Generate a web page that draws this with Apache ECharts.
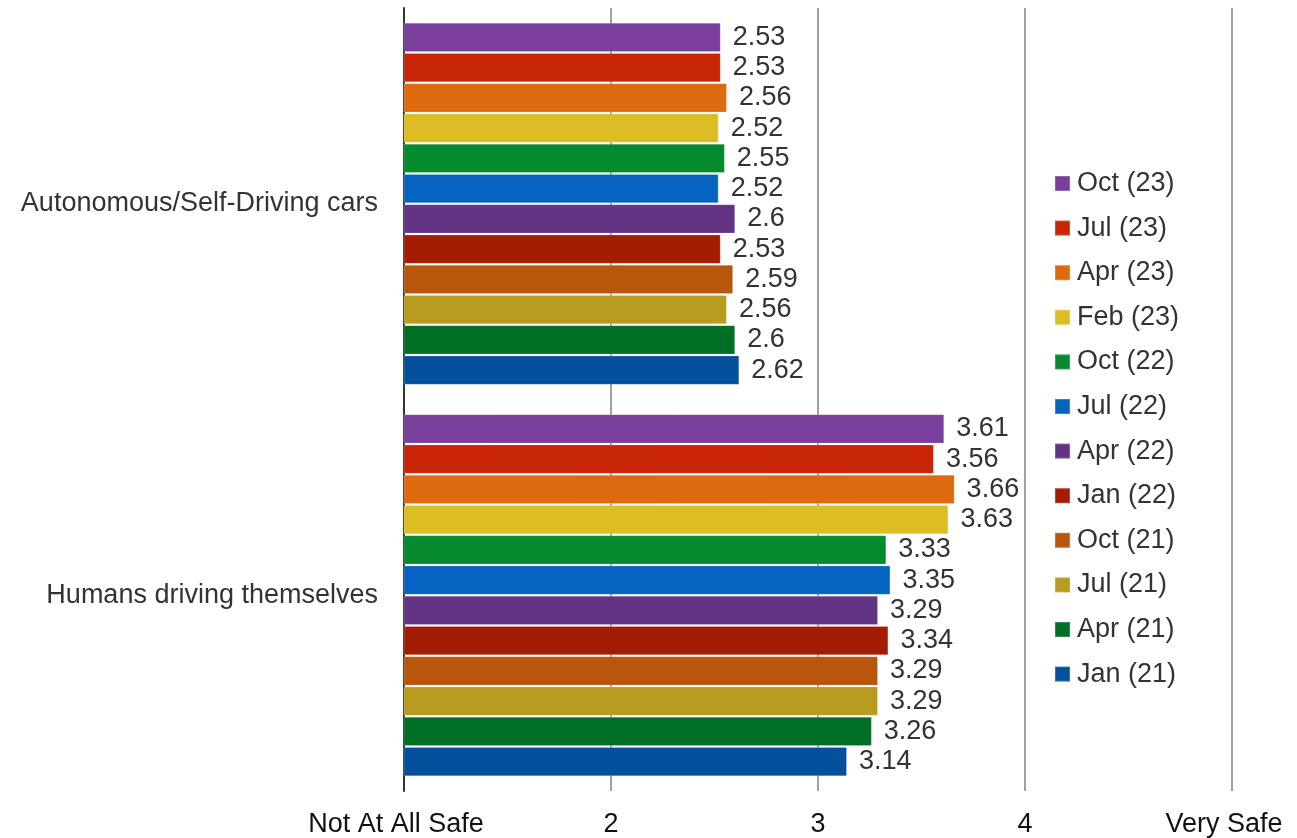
<!DOCTYPE html>
<html>
<head>
<meta charset="utf-8">
<script src="https://cdn.jsdelivr.net/npm/echarts@6/dist/echarts.min.js"></script>
<style>html,body{margin:0;padding:0;background:#fff;}#c{width:1297px;height:838px;}</style>
</head>
<body>
<div id="c"></div>
<script>
const categories = ['Autonomous/Self-Driving cars', 'Humans driving themselves'];
const seriesNames = ['Oct (23)', 'Jul (23)', 'Apr (23)', 'Feb (23)', 'Oct (22)', 'Jul (22)', 'Apr (22)', 'Jan (22)', 'Oct (21)', 'Jul (21)', 'Apr (21)', 'Jan (21)'];
const autonomousValues = [2.53, 2.53, 2.56, 2.52, 2.55, 2.52, 2.6, 2.53, 2.59, 2.56, 2.6, 2.62];
const humanValues = [3.61, 3.56, 3.66, 3.63, 3.33, 3.35, 3.29, 3.34, 3.29, 3.29, 3.26, 3.14];
const colors = ['#7A3F9C', '#C82506', '#DE6A10', '#DCBE24', '#068A2E', '#0664C0', '#643484', '#A51C05', '#B8560C', '#B89C1F', '#006E25', '#04509C'];
const tickLabels = {1: 'Not At All Safe', 2: '2', 3: '3', 4: '4', 5: 'Very Safe'};

const FONT = '"Liberation Sans", Arial, sans-serif';
const FS = 27;
const chart = echarts.init(document.getElementById('c'));
const series = seriesNames.map((name, i) => ({
  name: name,
  type: 'bar',
  data: [autonomousValues[i], humanValues[i]],
  barGap: '3%',
  barCategoryGap: '7.5%',
  itemStyle: { color: colors[i], borderColor: 'rgba(255,255,255,0.2)', borderWidth: 1 },
  label: {
    show: true, position: 'right', distance: 12,
    color: '#333', fontSize: FS, fontFamily: FONT
  },
  animation: false
}));

chart.setOption({
  animation: false,
  grid: { left: 404, right: 65, top: 8, bottom: 47, containLabel: false },
  legend: {
    orient: 'vertical', left: 1049, top: 165,
    itemWidth: 19, itemHeight: 15, itemGap: 17.6,
    icon: 'path://M0,0L15,0L15,15L0,15Z',
    textStyle: { color: '#333', fontSize: FS, fontFamily: FONT },
    data: seriesNames
  },
  xAxis: {
    type: 'value', min: 1, max: 5, interval: 1,
    axisLine: { show: false },
    axisTick: { show: false },
    splitLine: { show: true, lineStyle: { color: '#A0A0A0', width: 2 } },
    axisLabel: {
      margin: 20, color: '#111', fontSize: FS, fontFamily: FONT,
      formatter: v => (v === 1 || v === 5) ? '{e|' + tickLabels[v] + '}' : (tickLabels[v] || ''),
      rich: { e: { color: '#111', fontSize: FS, fontFamily: FONT, padding: [0, 16, 0, 0] } }
    }
  },
  yAxis: {
    type: 'category', data: categories, inverse: true,
    axisLine: { show: true, lineStyle: { color: '#333', width: 2 } },
    axisTick: { show: false },
    axisLabel: { margin: 26, color: '#333', fontSize: FS, fontFamily: FONT }
  },
  series: series
});
</script>
</body>
</html>
